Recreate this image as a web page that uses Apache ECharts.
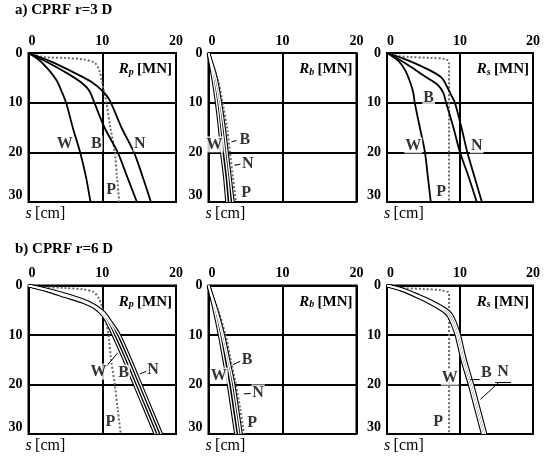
<!DOCTYPE html>
<html>
<head>
<meta charset="utf-8">
<script src="https://cdn.jsdelivr.net/npm/echarts@6/dist/echarts.min.js"></script>
<style>html,body{margin:0;padding:0;background:#fff}#c{width:550px;height:463px}</style>
</head>
<body>
<div id="c"></div>
<script>
// ---- tick values ----
const xTicks = [0, 10, 20];
const yTicks = [0, 10, 20, 30];
const seriesNames = ['W', 'B', 'N', 'P'];

// ---- a) CPRF r=3 D : Rp [MN] vs s [cm] ----
const aRpW = [[0,0],[1.5,1.5],[2.8,3.5],[3.8,5.5],[4.4,7.4],[5.1,10],[6.0,15],[7.0,20],[7.8,25],[8.4,30]];
const aRpB = [[0,0],[3,2.2],[5.5,4.3],[7.2,6],[8.2,7.5],[8.8,9.5],[10.3,15],[12.1,20],[13.4,25],[14.7,30]];
const aRpN = [[0,0],[3,1.7],[6.5,4.2],[8.5,5.8],[10,7.6],[11.0,9.5],[12.6,15],[14.3,20],[15.5,25],[16.6,30]];
const aRpP = [[0,0],[2,0.8],[5,1.0],[7.5,1.3],[9,2],[9.6,3.5],[9.9,5.4],[10.2,7.5],[10.5,9.5],[11.1,15],[11.7,20],[12.0,25],[12.3,30]];

// ---- a) Rb ----
const aRbW = [[0,0],[0.6,5],[1.1,10],[1.5,15],[1.8,20],[2.2,25],[2.5,30]];
const aRbB = [[0,0],[0.8,5],[1.4,10],[1.8,15],[2.2,20],[2.6,25],[2.9,30]];
const aRbN = [[0,0],[1.0,5],[1.6,10],[2.1,15],[2.5,20],[2.9,25],[3.3,30]];
const aRbP = [[0,0],[1.2,5],[1.9,10],[2.5,15],[2.9,20],[3.3,25],[3.7,30]];

// ---- a) Rs ----
const aRsW = [[0,0],[1.5,1.5],[2.5,3.5],[3.2,6],[3.6,8],[3.8,10],[4.5,15],[5.2,20],[5.6,25],[6.0,30]];
const aRsB = [[0,0],[2,1.6],[4,3.5],[5.5,5.0],[7,6.5],[7.7,8],[8.1,10],[9.1,15],[10.0,20],[11.2,25],[12.3,30]];
const aRsN = [[0,0],[2,1.0],[4,2.2],[6,3.6],[7.5,5],[8.3,7],[8.8,8.5],[9.3,10],[10.2,15],[11.0,20],[12.0,25],[13.0,30]];
const aRsP = [[0,0],[1.5,0.6],[3,0.8],[6,1.0],[8,1.2],[8.5,2],[8.5,30]];

// ---- b) CPRF r=6 D : Rp ----
const bRpW = [[0,0],[2.5,1.0],[5,2.2],[7.5,3.4],[9,4.5],[10.1,6],[10.7,7.5],[11.5,10],[13.0,15],[14.4,20],[15.8,25],[17.2,30]];
const bRpB = [[0,0],[2.5,0.9],[5,2.0],[7.5,3.2],[9,4.3],[10.2,5.8],[11.0,7.5],[11.9,10],[13.4,15],[14.8,20],[16.2,25],[17.6,30]];
const bRpN = [[0,0],[2.5,0.8],[5,1.8],[7.5,3.0],[9,4.1],[10.3,5.6],[11.2,7.5],[12.3,10],[13.8,15],[15.2,20],[16.6,25],[18.0,30]];
const bRpP = [[0,0],[2,0.3],[5,0.5],[7.5,0.8],[8.8,1.3],[9.5,2.5],[9.9,4],[10.2,6],[10.6,8],[10.9,10.6],[11.2,15],[11.7,20],[12.1,25],[12.5,30]];

// ---- b) Rb ----
const bRbW = [[0,0],[0.8,5],[1.5,10],[2.1,15],[2.7,20],[3.2,25],[3.7,30]];
const bRbB = [[0,0],[1.0,5],[1.8,10],[2.5,15],[3.1,20],[3.6,25],[4.1,30]];
const bRbN = [[0,0],[1.1,5],[2.0,10],[2.7,15],[3.4,20],[3.9,25],[4.4,30]];
const bRbP = [[0,0],[1.3,5],[2.3,10],[3.0,15],[3.7,20],[4.3,25],[4.8,30]];

// ---- b) Rs ----
const bRsW = [[0,0],[2,0.9],[4.2,2.3],[6,3.6],[7.7,5.1],[8.4,6.1],[8.9,7.6],[9.5,10],[10.3,15],[11.3,20],[12.2,25],[13.1,30]];
const bRsB = [[0,0],[2,0.8],[4.3,2.2],[6,3.4],[7.9,5.0],[8.6,6.0],[9.1,7.5],[9.7,10],[10.5,15],[11.5,20],[12.4,25],[13.3,30]];
const bRsN = [[0,0],[2,0.7],[4.4,2.1],[6.2,3.3],[8.1,4.9],[8.8,5.9],[9.3,7.4],[9.9,10],[10.7,15],[11.7,20],[12.6,25],[13.5,30]];
const bRsP = [[0,0],[2,0.5],[5,0.7],[7.5,1.0],[8.5,1.6],[8.5,30]];

// ---- curve label anchors [x, s, text] ----
const aRpLabels = [[4.9,18.2,'W'],[9.2,18.2,'B'],[15.1,18.2,'N'],[11.2,27.6,'P']];
const aRbLabels = [[0.8,18.4,'W'],[4.9,17.4,'B'],[5.3,22.4,'N'],[5.1,28.1,'P']];
const aRsLabels = [[5.7,9.0,'B'],[3.6,18.6,'W'],[12.3,18.6,'N'],[7.4,28.0,'P']];
const bRpLabels = [[9.5,17.4,'W'],[12.9,17.6,'B'],[16.9,17.0,'N'],[11.1,27.5,'P']];
const bRbLabels = [[1.4,18.2,'W'],[5.2,15.0,'B'],[6.7,21.6,'N'],[5.9,27.7,'P']];
const bRsLabels = [[8.6,18.6,'W'],[13.6,17.6,'B'],[15.9,17.4,'N'],[7.0,27.5,'P']];

// ---- leader lines [[x1,s1],[x2,s2]] ----
const bRpLeaders = [[[10.4,16.6],[12.1,13.6]],[[16.0,17.3],[15.1,17.9]]];
const bRsLeaders = [[[12.7,19.0],[11.4,19.0]],[[15.3,19.6],[12.8,23.0]],[[14.8,19.6],[17.0,19.6]]];
const aRbLeaders = [[[3.8,17.6],[3.1,17.9]],[[4.3,22.4],[3.5,22.6]]];
const bRbLeaders = [[[4.3,15.3],[3.3,16.0]],[[5.7,21.8],[4.8,21.9]]];

const FONT = '"Liberation Serif", "DejaVu Serif", serif';

const panels = [
  {g:{left:28.5, top:53, width:147.5, height:149}, sub:'p', hollow:false, d:[aRpW,aRpB,aRpN,aRpP], labels:aRpLabels, leaders:[]},
  {g:{left:208.5, top:53, width:148, height:149}, sub:'b', hollow:true, d:[aRbW,aRbB,aRbN,aRbP], labels:aRbLabels, leaders:aRbLeaders},
  {g:{left:387, top:53, width:146, height:149}, sub:'s', hollow:false, d:[aRsW,aRsB,aRsN,aRsP], labels:aRsLabels, leaders:[]},
  {g:{left:28.5, top:285.5, width:147.5, height:148.5}, sub:'p', hollow:true, d:[bRpW,bRpB,bRpN,bRpP], labels:bRpLabels, leaders:bRpLeaders},
  {g:{left:208.5, top:285.5, width:148, height:148.5}, sub:'b', hollow:true, d:[bRbW,bRbB,bRbN,bRbP], labels:bRbLabels, leaders:bRbLeaders},
  {g:{left:387, top:285.5, width:146, height:148.5}, sub:'s', hollow:true, d:[bRsW,bRsB,bRsN,bRsP], labels:bRsLabels, leaders:bRsLeaders}
];

const grids = [], xAxes = [], yAxes = [], series = [], graphics = [];

panels.forEach((p, i) => {
  grids.push(Object.assign({show:true, borderColor:'#000', borderWidth:2, backgroundColor:'transparent', containLabel:false}, p.g));
  xAxes.push({
    gridIndex:i, type:'value', position:'top', min:xTicks[0], max:xTicks[xTicks.length-1], interval:xTicks[1]-xTicks[0],
    axisLine:{show:false}, axisTick:{show:false},
    axisLabel:{color:'#000', fontFamily:FONT, fontWeight:'bold', fontSize:14, margin:5, alignMinLabel:'left'},
    splitLine:{show:true, lineStyle:{color:'#000', width:2}}
  });
  yAxes.push({
    gridIndex:i, type:'value', inverse:true, min:yTicks[0], max:yTicks[yTicks.length-1], interval:yTicks[1]-yTicks[0],
    axisLine:{show:false}, axisTick:{show:false},
    axisLabel:{color:'#000', fontFamily:FONT, fontWeight:'bold', fontSize:14, margin:6, verticalAlignMaxLabel:'bottom'},
    splitLine:{show:true, lineStyle:{color:'#000', width:2}}
  });
  // P dotted
  series.push({type:'line', xAxisIndex:i, yAxisIndex:i, data:p.d[3], name:'P', showSymbol:false, smooth:0.3,
    lineStyle:{color:'#6a6a6a', width:2, type:[2,2]}, z:3, silent:true});
  // W, B, N
  for (let k = 0; k < 3; k++) {
    if (p.hollow) {
      series.push({type:'line', xAxisIndex:i, yAxisIndex:i, data:p.d[k], name:seriesNames[k], showSymbol:false, smooth:0.3,
        lineStyle:{color:'#000', width:3.6}, z:4, silent:true});
      series.push({type:'line', xAxisIndex:i, yAxisIndex:i, data:p.d[k], name:seriesNames[k]+'_in', showSymbol:false, smooth:0.3,
        lineStyle:{color:'#fff', width:1.4}, z:5, silent:true});
    } else {
      series.push({type:'line', xAxisIndex:i, yAxisIndex:i, data:p.d[k], name:seriesNames[k], showSymbol:false, smooth:0.3,
        lineStyle:{color:'#000', width:1.8}, z:4, silent:true});
    }
  }
  // leader lines
  p.leaders.forEach(seg => {
    series.push({type:'line', xAxisIndex:i, yAxisIndex:i, data:seg, showSymbol:false,
      lineStyle:{color:'#000', width:1}, z:6, silent:true});
  });
  // curve labels
  series.push({type:'scatter', xAxisIndex:i, yAxisIndex:i, symbolSize:0, z:7, silent:true,
    data:p.labels.map(l => ({value:[l[0], l[1]], name:l[2]})),
    label:{show:true, position:'inside', formatter:'{b}', color:'#000', fontFamily:FONT, fontWeight:'bold', fontSize:16,
      backgroundColor:'#fff', padding:[0,1]}
  });
  // Rx [MN] text
  graphics.push({type:'text', right: 550 - (p.g.left + p.g.width) + 4, top: p.g.top + 9, z:10,
    style:{text:'{r|R}{s|' + p.sub + '} {u|[MN]}', fill:'#000',
      rich:{r:{fontFamily:FONT, fontStyle:'italic', fontWeight:'bold', fontSize:15, verticalAlign:'bottom'},
            s:{fontFamily:FONT, fontStyle:'italic', fontWeight:'bold', fontSize:10, verticalAlign:'bottom', padding:[0,0,0,0]},
            u:{fontFamily:FONT, fontWeight:'bold', fontSize:15, verticalAlign:'bottom'}}}});
  // s [cm]
  graphics.push({type:'text', left: p.g.left - 3, top: p.g.top + p.g.height + 4, z:10,
    style:{text:'{i|s} {u|[cm]}', fill:'#000',
      rich:{i:{fontFamily:FONT, fontStyle:'italic', fontSize:16}, u:{fontFamily:FONT, fontSize:16}}}});
});

graphics.push({type:'text', left:15, top:3, style:{text:'a) CPRF r=3 D', fill:'#000', font:'bold 15px ' + FONT}});
graphics.push({type:'text', left:15, top:242, style:{text:'b) CPRF r=6 D', fill:'#000', font:'bold 15px ' + FONT}});

const chart = echarts.init(document.getElementById('c'), null, {renderer:'canvas'});
chart.setOption({
  animation:false,
  backgroundColor:'#fff',
  grid:grids, xAxis:xAxes, yAxis:yAxes, series:series, graphic:graphics
});
</script>
</body>
</html>
